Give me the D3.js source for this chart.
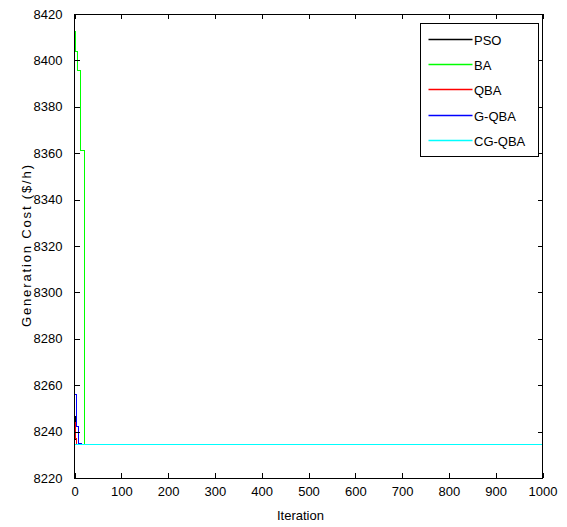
<!DOCTYPE html>
<html>
<head>
<meta charset="utf-8">
<script src="https://cdn.jsdelivr.net/npm/d3@7"></script>
<style>
  body { margin: 0; background: #fff; }
  text { font-family: "Liberation Sans", Arial, sans-serif; fill: #000; }
</style>
</head>
<body>
<div id="chart"></div>
<script>
// convergence data, step points per algorithm
var psoIter = [0, 1, 2, 3, 5, 1000];
var psoCost = [8254.3, 8246.5, 8240.5, 8236.5, 8234.4, 8234.4];

var baIter = [0, 3, 7, 12, 21, 22, 1000];
var baCost = [8412.4, 8403.8, 8395.6, 8361.0, 8328.3, 8234.4, 8234.4];

var qbaIter = [0, 1, 2, 4, 1000];
var qbaCost = [8250.7, 8244.0, 8237.0, 8234.4, 8234.4];

var gqbaIter = [0, 5, 8, 16, 1000];
var gqbaCost = [8256.1, 8242.4, 8235.0, 8234.4, 8234.4];

var cgqbaIter = [0, 1000];
var cgqbaCost = [8234.4, 8234.4];

var seriesNames = ["PSO", "BA", "QBA", "G-QBA", "CG-QBA"];
var seriesColors = ["#000000", "#00ff00", "#ff0000", "#0000ff", "#00ffff"];

var xTicks = [0, 100, 200, 300, 400, 500, 600, 700, 800, 900, 1000];
var yTicks = [8220, 8240, 8260, 8280, 8300, 8320, 8340, 8360, 8380, 8400, 8420];

var svgWidth = 567;
var svgHeight = 527;

var margin = {
  top: 14,
  right: 24.5,
  bottom: 49,
  left: 74.5
};

var width = svgWidth - margin.left - margin.right;
var height = svgHeight - margin.top - margin.bottom;

var svg = d3.select("#chart")
  .append("svg")
  .attr("width", svgWidth)
  .attr("height", svgHeight);

var chartGroup = svg.append("g")
  .attr("transform", `translate(${margin.left}, ${margin.top})`);

// scales
var xLinearScale = d3.scaleLinear()
  .domain([0, 1000])
  .range([0, width]);

var yLinearScale = d3.scaleLinear()
  .domain([8220, 8420])
  .range([height, 0]);

// build series from the arrays
var allSeries = [
  { iter: psoIter, cost: psoCost },
  { iter: baIter, cost: baCost },
  { iter: qbaIter, cost: qbaCost },
  { iter: gqbaIter, cost: gqbaCost },
  { iter: cgqbaIter, cost: cgqbaCost }
].map(function(s, i) {
  return {
    name: seriesNames[i],
    color: seriesColors[i],
    values: s.iter.map((d, j) => ({ x: d, y: s.cost[j] }))
  };
});

// clip lines to the axes box
chartGroup.append("clipPath")
  .attr("id", "plotClip")
  .append("rect")
  .attr("width", width)
  .attr("height", height);

var line = d3.line()
  .curve(d3.curveStepAfter)
  .x(d => xLinearScale(d.x))
  .y(d => yLinearScale(d.y));

chartGroup.append("g")
  .attr("clip-path", "url(#plotClip)")
  .selectAll("path")
  .data(allSeries)
  .enter()
  .append("path")
  .attr("d", d => line(d.values))
  .attr("fill", "none")
  .attr("stroke", d => d.color)
  .attr("stroke-width", 1)
  .attr("shape-rendering", "crispEdges");

// matlab style axes: ticks inside, box on all sides
var tickLen = 5;
var fmt = d3.format("d");

var bottomAxis = d3.axisBottom(xLinearScale).tickValues(xTicks).tickSize(-tickLen).tickPadding(9).tickFormat(fmt);
var topAxis = d3.axisTop(xLinearScale).tickValues(xTicks).tickSize(-tickLen).tickFormat("");
var leftAxis = d3.axisLeft(yLinearScale).tickValues(yTicks).tickSize(-tickLen).tickPadding(12).tickFormat(fmt);
var rightAxis = d3.axisRight(yLinearScale).tickValues(yTicks).tickSize(-tickLen).tickFormat("");

function styleAxis(g) {
  g.select(".domain").remove();
  g.selectAll("line")
    .attr("stroke", "#000")
    .attr("shape-rendering", "crispEdges");
  g.selectAll("text")
    .style("font-size", "13px")
    .style("font-family", "\"Liberation Sans\", Arial, sans-serif")
    .attr("fill", "#000");
}

chartGroup.append("g")
  .attr("transform", `translate(0, ${height})`)
  .call(bottomAxis)
  .call(styleAxis);

chartGroup.append("g")
  .call(topAxis)
  .call(styleAxis);

chartGroup.append("g")
  .call(leftAxis)
  .call(styleAxis);

chartGroup.append("g")
  .attr("transform", `translate(${width}, 0)`)
  .call(rightAxis)
  .call(styleAxis);

// box
chartGroup.append("rect")
  .attr("width", width)
  .attr("height", height)
  .attr("fill", "none")
  .attr("stroke", "#000")
  .attr("stroke-width", 1)
  .attr("shape-rendering", "crispEdges");

// axis labels
chartGroup.append("text")
  .attr("x", 226)
  .attr("y", height + 42)
  .attr("text-anchor", "middle")
  .style("font-size", "13px")
  .text("Iteration");

chartGroup.append("text")
  .attr("transform", "rotate(-90)")
  .attr("x", -height / 2)
  .attr("y", -44)
  .attr("text-anchor", "middle")
  .style("font-size", "13px")
  .attr("textLength", 162)
  .attr("lengthAdjust", "spacing")
  .text("Generation Cost ($/h)");

// legend
var legendGroup = svg.append("g")
  .attr("transform", "translate(420.5, 23.5)");

legendGroup.append("rect")
  .attr("width", 118)
  .attr("height", 133)
  .attr("fill", "#fff")
  .attr("stroke", "#000")
  .attr("stroke-width", 1)
  .attr("shape-rendering", "crispEdges");

var legendRows = legendGroup.selectAll(".legend-row")
  .data(allSeries)
  .enter()
  .append("g")
  .classed("legend-row", true)
  .attr("transform", (d, i) => `translate(0, ${Math.round(15.5 + i * 25.4)})`);

legendRows.append("line")
  .attr("x1", 8)
  .attr("x2", 52)
  .attr("y1", 0)
  .attr("y2", 0)
  .attr("stroke", d => d.color)
  .attr("stroke-width", 1.5);

legendRows.append("text")
  .attr("x", 53.5)
  .attr("y", 5)
  .style("font-size", "13px")
  .text(d => d.name);
</script>
</body>
</html>
